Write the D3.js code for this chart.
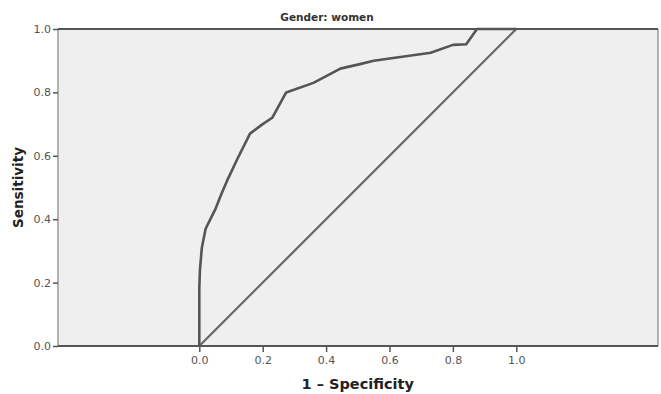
<!DOCTYPE html>
<html>
<head>
<meta charset="utf-8">
<script src="https://cdn.jsdelivr.net/npm/d3@7"></script>
<style>
  body { margin: 0; background: #fff; }
  text { font-family: "DejaVu Sans", sans-serif; }
</style>
</head>
<body>
<div id="chart"></div>
<script>
// ROC curve (1 - specificity, sensitivity)
const rocFpr  = [0, 0, 0.002, 0.008, 0.02, 0.035, 0.05, 0.07, 0.087, 0.12, 0.16, 0.2, 0.23, 0.274, 0.36, 0.445, 0.51, 0.55, 0.73, 0.80, 0.842, 0.876, 1];
const rocTpr  = [0, 0.18, 0.24, 0.31, 0.37, 0.40, 0.43, 0.48, 0.52, 0.59, 0.67, 0.70, 0.72, 0.80, 0.83, 0.875, 0.89, 0.90, 0.925, 0.95, 0.952, 1, 1];
const refLine = [[0, 0], [1, 1]];
const tickValues = [0, 0.2, 0.4, 0.6, 0.8, 1.0];

const title = 'Gender: women';
const xTitle = '1 \u2013 Specificity';
const yTitle = 'Sensitivity';

// chart dimensions
const margin = { top: 29, right: 3, bottom: 48, left: 58 };
const width = 661 - margin.left - margin.right;
const height = 394 - margin.top - margin.bottom;

// y runs 0..1 over the full height; x uses the same unit length, 0 sits at 141px
const unit = height;
const x0 = 141.3;
const xScale = d3.scaleLinear()
  .domain([-x0 / unit, (width - x0) / unit])
  .range([0, width]);

const yScale = d3.scaleLinear()
  .domain([0, 1])
  .range([height, 0]);

const svg = d3.select('#chart')
  .append('svg')
  .attr('width', 661)
  .attr('height', 394);

const g = svg.append('g')
  .attr('transform', `translate(${margin.left}, ${margin.top})`);

// plot background
g.append('rect')
  .attr('width', width)
  .attr('height', height)
  .attr('fill', '#efefef');

// side borders lighter, top/bottom dark
g.append('line').attr('x1', 0).attr('x2', 0).attr('y1', 0).attr('y2', height)
  .attr('stroke', '#9a9a9a').attr('stroke-width', 1.5);
g.append('line').attr('x1', width).attr('x2', width).attr('y1', 0).attr('y2', height)
  .attr('stroke', '#9a9a9a').attr('stroke-width', 1.5);
g.append('line').attr('x1', 0).attr('x2', width).attr('y1', 0).attr('y2', 0)
  .attr('stroke', '#555').attr('stroke-width', 2);
g.append('line').attr('x1', 0).attr('x2', width).attr('y1', height).attr('y2', height)
  .attr('stroke', '#555').attr('stroke-width', 2);

// axes
const yAxis = g.append('g')
  .call(d3.axisLeft(yScale).tickValues(tickValues).tickFormat(d3.format('.1f')).tickSize(5).tickPadding(2));

const xAxis = g.append('g')
  .attr('transform', `translate(0, ${height})`)
  .call(d3.axisBottom(xScale).tickValues(tickValues).tickFormat(d3.format('.1f')).tickSize(6).tickPadding(4));

[xAxis, yAxis].forEach(function(a) {
  a.select('.domain').remove();
  a.selectAll('line').attr('stroke', '#555').attr('stroke-width', 1.5);
  a.selectAll('text')
    .attr('fill', '#555')
    .style('font-size', '11px')
    .style('font-family', '"DejaVu Sans", sans-serif');
});

// reference diagonal
const line = d3.line()
  .x(function(d) { return xScale(d[0]) })
  .y(function(d) { return yScale(d[1]) });

g.append('path')
  .datum(refLine)
  .attr('d', line)
  .attr('fill', 'none')
  .attr('stroke', '#666')
  .attr('stroke-width', 2.2);

// ROC curve
g.append('path')
  .datum(rocFpr.map(function(v, i) { return [v, rocTpr[i]] }))
  .attr('d', line)
  .attr('fill', 'none')
  .attr('stroke', '#555')
  .attr('stroke-width', 2.6)
  .attr('stroke-linejoin', 'round');

// titles
svg.append('text')
  .attr('x', 327)
  .attr('y', 21)
  .attr('text-anchor', 'middle')
  .style('font-size', '10.5px')
  .style('font-weight', 'bold')
  .attr('fill', '#333')
  .text(title);

svg.append('text')
  .attr('x', margin.left + xScale(0.5))
  .attr('y', 389)
  .attr('text-anchor', 'middle')
  .style('font-size', '14.5px')
  .style('font-weight', 'bold')
  .attr('fill', '#222')
  .text(xTitle);

svg.append('text')
  .attr('transform', `translate(23, ${margin.top + yScale(0.5)}) rotate(-90)`)
  .attr('text-anchor', 'middle')
  .style('font-size', '13.5px')
  .style('font-weight', 'bold')
  .attr('fill', '#222')
  .text(yTitle);
</script>
</body>
</html>
